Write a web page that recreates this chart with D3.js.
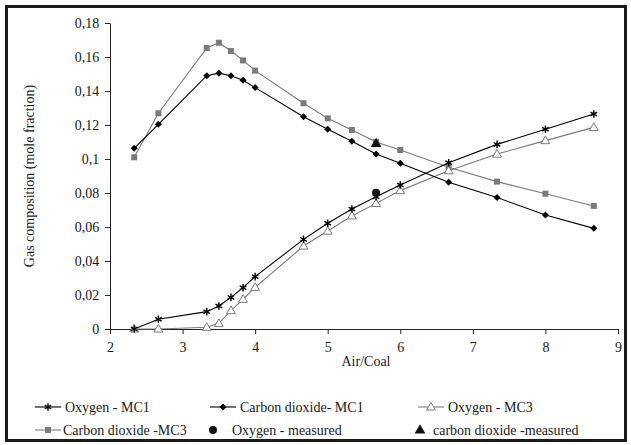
<!DOCTYPE html>
<html><head><meta charset="utf-8">
<script src="https://cdn.jsdelivr.net/npm/d3@7"></script>
<style>body{margin:0;background:#fff}svg{display:block}svg text{font-family:"Liberation Serif","Times New Roman",Times,serif !important;fill:#1a1a1a}</style>
</head><body><svg id="c" width="631" height="445" font-family="Liberation Serif, serif"></svg>
<script>
const airCoal = [7/3, 8/3, 10/3, 3.5, 11/3, 23/6, 4, 14/3, 5, 16/3, 17/3, 6, 20/3, 22/3, 8, 26/3];
const oxygenMC1 = [0, 0.0057, 0.0102, 0.0135, 0.0186, 0.0243, 0.0308, 0.0527, 0.0622, 0.0706, 0.0778, 0.0847, 0.0978, 0.1086, 0.1175, 0.1265];
const co2MC1 = [0.1063, 0.1204, 0.149, 0.1505, 0.149, 0.1463, 0.142, 0.1249, 0.1175, 0.1104, 0.1029, 0.0975, 0.0863, 0.0773, 0.0671, 0.0592];
const oxygenMC3 = [0, 0, 0.001, 0.0033, 0.0108, 0.0175, 0.0245, 0.0488, 0.0576, 0.0665, 0.0739, 0.0814, 0.0931, 0.1029, 0.1108, 0.1186];
const co2MC3 = [0.101, 0.1269, 0.1653, 0.1684, 0.1635, 0.158, 0.152, 0.1328, 0.1239, 0.1171, 0.1100, 0.1053, 0.0951, 0.0867, 0.0796, 0.0724];
const measuredX = [17/3];
const oxygenMeasured = [0.0802];
const co2Measured = [0.1092];
const xTicks = [2,3,4,5,6,7,8,9];
const yTicks = [0,0.02,0.04,0.06,0.08,0.1,0.12,0.14,0.16,0.18];
const legendLabels = ["Oxygen - MC1","Carbon dioxide- MC1","Oxygen - MC3","Carbon dioxide -MC3","Oxygen - measured","carbon dioxide -measured"];

const FONT = "Liberation Serif, Times New Roman, serif";
const svg = d3.select("#c");
svg.append("rect").attr("x",6.5).attr("y",6.5).attr("width",619).attr("height",434)
  .attr("fill","#fff").attr("stroke","#1a1a1a").attr("stroke-width",3);

const x = d3.scaleLinear().domain([2,9]).range([110,618]);
const y = d3.scaleLinear().domain([0,0.18]).range([329,23]);
const fmt = d => d===0 ? "0" : String(+d.toFixed(2)).replace(".", ",");

const gx = svg.append("g").attr("transform","translate(0,329)")
  .call(d3.axisBottom(x).tickValues(xTicks).tickSize(5).tickSizeOuter(0).tickFormat(d3.format("d")));
const gy = svg.append("g").attr("transform","translate(110,0)")
  .call(d3.axisLeft(y).tickValues(yTicks).tickSize(5).tickSizeOuter(0).tickFormat(fmt));
[gx,gy].forEach(g=>{
  g.attr("font-family",FONT);
  g.select(".domain").attr("stroke","#222");
  g.selectAll(".tick line").attr("stroke","#222");
  g.selectAll("text").attr("font-size",14).style("font-family",FONT).attr("fill","#1a1a1a");
});
gx.selectAll("text").attr("dy","1.05em");
gy.selectAll("text").attr("dx","-0.2em");

svg.append("text").attr("x",366).attr("y",366).attr("text-anchor","middle").attr("font-size",14).style("font-family",FONT).text("Air/Coal");
svg.append("text").attr("transform","translate(34,176) rotate(-90)").attr("text-anchor","middle").attr("font-size",14).style("font-family",FONT).text("Gas composition (mole fraction)");

const line = d3.line().x((d,i)=>x(airCoal[i])).y(d=>y(d));
const grey = "#7a7a7a";
const series = [
  {v: co2MC3, color: grey, mark:"square"},
  {v: oxygenMC3, color: grey, mark:"tri"},
  {v: co2MC1, color:"#000", mark:"diamond"},
  {v: oxygenMC1, color:"#000", mark:"star"},
];
function drawMark(g, type, cx, cy, color){
  if(type==="square") g.append("rect").attr("x",cx-3).attr("y",cy-3).attr("width",6).attr("height",6).attr("fill",color);
  else if(type==="tri") g.append("path").attr("d",d3.symbol(d3.symbolTriangle,34)()).attr("transform",`translate(${cx},${cy+0.5})`).attr("fill","#fff").attr("stroke",color).attr("stroke-width",1);
  else if(type==="diamond") g.append("path").attr("d",`M${cx},${cy-3.5}L${cx+3.5},${cy}L${cx},${cy+3.5}L${cx-3.5},${cy}Z`).attr("fill",color);
  else if(type==="star") g.append("path").attr("d",d3.symbol(d3.symbolAsterisk,40)()).attr("transform",`translate(${cx},${cy})`).attr("fill","none").attr("stroke",color).attr("stroke-width",1.4);
  else if(type==="dot") g.append("circle").attr("cx",cx).attr("cy",cy).attr("r",4).attr("fill",color);
  else if(type==="ftri") g.append("path").attr("d",d3.symbol(d3.symbolTriangle,50)()).attr("transform",`translate(${cx},${cy+0.5})`).attr("fill",color);
}
series.forEach(s=>{
  svg.append("path").attr("d",line(s.v)).attr("fill","none").attr("stroke",s.color).attr("stroke-width",1.1);
});
series.forEach(s=>{
  const g = svg.append("g");
  s.v.forEach((d,i)=>drawMark(g,s.mark,x(airCoal[i]),y(d),s.color));
});
const gm = svg.append("g");
measuredX.forEach((d,i)=>{
  drawMark(gm,"ftri",x(d),y(co2Measured[i]),"#111");
  drawMark(gm,"dot",x(d),y(oxygenMeasured[i]),"#111");
});

// legend
const leg = [
  {x:35, y:407, mark:"star", color:"#000", line:true, tx:65},
  {x:210, y:407, mark:"diamond", color:"#000", line:true, tx:240},
  {x:418, y:407, mark:"tri", color:grey, line:true, tx:448},
  {x:35, y:430, mark:"square", color:grey, line:true, tx:63},
  {x:213, y:430, mark:"dot", color:"#111", line:false, tx:232},
  {x:420, y:430, mark:"ftri", color:"#111", line:false, tx:433},
];
leg.forEach((l,i)=>{
  const g = svg.append("g");
  if(l.line){
    g.append("line").attr("x1",l.x).attr("x2",l.x+26).attr("y1",l.y).attr("y2",l.y).attr("stroke",l.color).attr("stroke-width",1.1);
    drawMark(g,l.mark,l.x+13,l.y,l.color);
  } else {
    drawMark(g,l.mark,l.x,l.y,l.color);
  }
  g.append("text").attr("x",l.tx).attr("y",l.y+4.5).attr("font-size",14).style("font-family",FONT).text(legendLabels[i]);
});
</script></body></html>
